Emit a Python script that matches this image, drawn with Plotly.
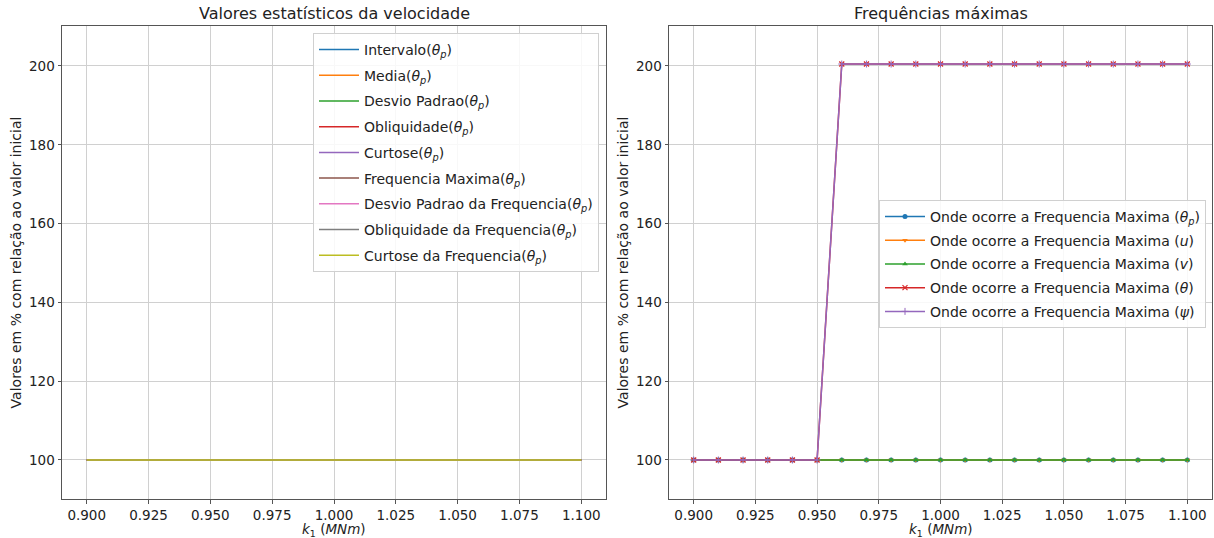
import plotly.graph_objects as go

k1 = [0.90, 0.91, 0.92, 0.93, 0.94, 0.95, 0.96, 0.97, 0.98, 0.99, 1.00,
      1.01, 1.02, 1.03, 1.04, 1.05, 1.06, 1.07, 1.08, 1.09, 1.10]

flat = [100, 100, 100, 100, 100, 100, 100, 100, 100, 100, 100,
        100, 100, 100, 100, 100, 100, 100, 100, 100, 100]

left_names = ["Intervalo", "Media", "Desvio Padrao", "Obliquidade", "Curtose",
              "Frequencia Maxima", "Desvio Padrao da Frequencia",
              "Obliquidade da Frequencia", "Curtose da Frequencia"]
left_values = {
    "Intervalo": flat, "Media": flat, "Desvio Padrao": flat, "Obliquidade": flat,
    "Curtose": flat, "Frequencia Maxima": flat, "Desvio Padrao da Frequencia": flat,
    "Obliquidade da Frequencia": flat, "Curtose da Frequencia": flat,
}

fmax_thetap = [100, 100, 100, 100, 100, 100, 100, 100, 100, 100, 100,
               100, 100, 100, 100, 100, 100, 100, 100, 100, 100]
fmax_u = [100, 100, 100, 100, 100, 100, 100, 100, 100, 100, 100,
          100, 100, 100, 100, 100, 100, 100, 100, 100, 100]
fmax_v = [100, 100, 100, 100, 100, 100, 100, 100, 100, 100, 100,
          100, 100, 100, 100, 100, 100, 100, 100, 100, 100]
fmax_theta = [100, 100, 100, 100, 100, 100, 200.5, 200.5, 200.5, 200.5, 200.5,
              200.5, 200.5, 200.5, 200.5, 200.5, 200.5, 200.5, 200.5, 200.5, 200.5]
fmax_psi = [100, 100, 100, 100, 100, 100, 200.5, 200.5, 200.5, 200.5, 200.5,
            200.5, 200.5, 200.5, 200.5, 200.5, 200.5, 200.5, 200.5, 200.5, 200.5]

colors = ["#1f77b4", "#ff7f0e", "#2ca02c", "#d62728", "#9467bd",
          "#8c564b", "#e377c2", "#7f7f7f", "#bcbd22"]

FONT = "DejaVu Sans"
TP = "<i>θ</i><sub><i>p</i></sub>"
XLABEL = "<i>k</i><sub>1</sub> (<i>MNm</i>)"
YLABEL = "Valores em % com relação ao valor inicial"

fig = go.Figure()

for i, name in enumerate(left_names):
    fig.add_trace(go.Scatter(
        x=k1, y=left_values[name], mode="lines",
        line=dict(color=colors[i], width=1.5),
        name=f"{name}({TP})", legend="legend", legendgroup=f"l{i}",
        xaxis="x", yaxis="y"))

right_series = [
    (fmax_thetap, f"Onde ocorre a Frequencia Maxima ({TP})", "circle", None),
    (fmax_u, "Onde ocorre a Frequencia Maxima (<i>u</i>)", "triangle-down", None),
    (fmax_v, "Onde ocorre a Frequencia Maxima (<i>v</i>)", "triangle-up", None),
    (fmax_theta, "Onde ocorre a Frequencia Maxima (<i>θ</i>)", "x-thin-open", 1.2),
    (fmax_psi, "Onde ocorre a Frequencia Maxima (<i>ψ</i>)", "cross-thin-open", 1.0),
]
for i, (vals, name, sym, lw) in enumerate(right_series):
    marker = dict(symbol=sym, size=5, color=colors[i])
    if lw is not None:
        marker["line"] = dict(color=colors[i], width=lw)
    fig.add_trace(go.Scatter(
        x=k1, y=vals, mode="lines+markers",
        line=dict(color=colors[i], width=1.5), marker=marker,
        name=name, legend="legend2", legendgroup=f"r{i}",
        xaxis="x2", yaxis="y2"))

W, H = 1214, 538
def fx(px): return px / W
def fy(py): return (H - py) / H

axis_common = dict(
    showgrid=True, gridcolor="#d0d0d0", gridwidth=1,
    showline=True, linecolor="#555555", linewidth=1, mirror=True,
    ticks="outside", ticklen=3.5, tickcolor="#555555",
    tickfont=dict(family=FONT, size=13.5, color="#222222"),
    zeroline=False, automargin=False,
)
xcommon = dict(axis_common, range=[0.89, 1.11], tick0=0.9, dtick=0.025, tickformat=".3f")
ycommon = dict(axis_common, range=[90.1, 210.15], tick0=100, dtick=20)

ylabel = dict(text=YLABEL, font=dict(family=FONT, size=14, color="#222222"), standoff=4)

def text_ann(text, x, y, size, yanchor="middle", yshift=0):
    return dict(text=text, x=x, y=y, xref="paper", yref="paper", xanchor="center",
                yanchor=yanchor, showarrow=False, borderpad=0, yshift=yshift,
                font=dict(family=FONT, size=size, color="#222222"))

fig.update_layout(
    width=W, height=H,
    margin=dict(l=0, r=0, t=0, b=0),
    paper_bgcolor="white", plot_bgcolor="white",
    font=dict(family=FONT, size=14, color="#222222"),
    xaxis=dict(xcommon, domain=[fx(62), fx(606)], anchor="y"),
    yaxis=dict(ycommon, domain=[fy(499), fy(26)], anchor="x", title=ylabel),
    xaxis2=dict(xcommon, domain=[fx(669), fx(1212)], anchor="y2"),
    yaxis2=dict(ycommon, domain=[fy(499), fy(26)], anchor="x2", title=ylabel),
    legend=dict(x=fx(599), y=fy(33), xanchor="right", yanchor="top",
                bgcolor="rgba(255,255,255,0.85)", bordercolor="#d0d0d0", borderwidth=1,
                font=dict(family=FONT, size=14), tracegroupgap=4.5, itemwidth=40),
    legend2=dict(x=fx(1206), y=fy(200), xanchor="right", yanchor="top",
                 bgcolor="rgba(255,255,255,0.85)", bordercolor="#d0d0d0", borderwidth=1,
                 font=dict(family=FONT, size=14), tracegroupgap=2.5, itemwidth=40),
    annotations=[
        text_ann("Valores estatísticos da velocidade", (fx(62) + fx(606)) / 2, fy(24), 16, "bottom"),
        text_ann("Frequências máximas", (fx(669) + fx(1212)) / 2, fy(24), 16, "bottom"),
        text_ann(XLABEL, (fx(62) + fx(606)) / 2, fy(538), 13.5, "bottom", -2),
        text_ann(XLABEL, (fx(669) + fx(1212)) / 2, fy(538), 13.5, "bottom", -2),
    ],
)

fig.write_html("out.html")
